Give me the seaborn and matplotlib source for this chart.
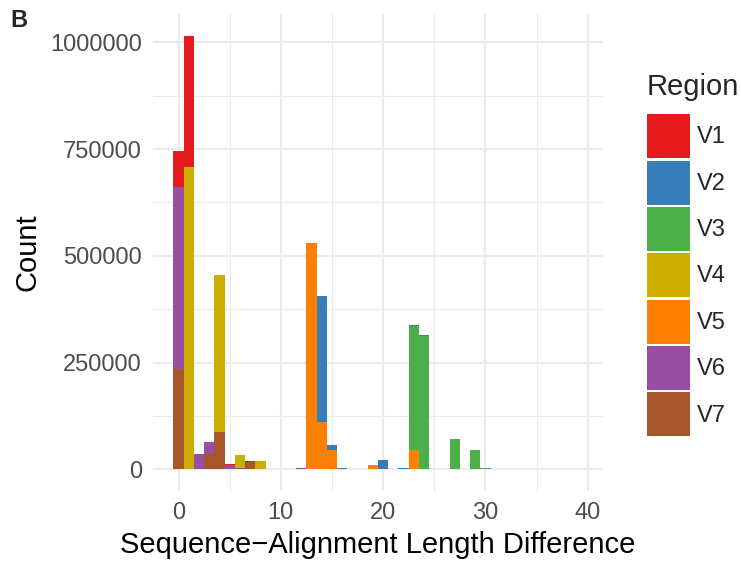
import numpy as np
import pandas as pd
import matplotlib
matplotlib.use("Agg")
import matplotlib.pyplot as plt
from matplotlib.patches import Patch
import seaborn as sns

# Per-region histogram counts, keyed by length difference (bin centre)
regions = ["V1", "V2", "V3", "V4", "V5", "V6", "V7"]

v1_diff = [0, 1, 5, 7]
v1_count = [745800, 1015600, 11700, 18500]

v2_diff = [14, 15, 16, 17, 18, 19, 20, 22, 23, 24, 25]
v2_count = [406000, 57800, 2500, 1500, 1500, 11000, 22700, 3000, 337000, 315000, 1500]

v3_diff = [23, 24, 27, 29, 30, 33, 34, 35, 37, 39]
v3_count = [335000, 313000, 71800, 46000, 4000, 1300, 1300, 1300, 1300, 1300]

v4_diff = [1, 4, 6, 8, 9, 10]
v4_count = [709000, 455600, 34400, 20000, 1500, 1500]

v5_diff = [13, 14, 15, 19, 21, 22, 23, 36]
v5_count = [530500, 111600, 46000, 10300, 1500, 1500, 46000, 1300]

v6_diff = [0, 2, 3, 5, 6, 8, 11, 12]
v6_count = [661500, 36700, 64800, 9400, 3500, 1500, 1500, 3000]

v7_diff = [0, 3, 4, 7]
v7_count = [235600, 36700, 88000, 17000]

region_colors = ["#E41A1C", "#377EB8", "#4DAF4A", "#CDAD00",
                 "#FF7F00", "#984EA3", "#A65628"]

x_ticks = [0, 10, 20, 30, 40]
y_ticks = [0, 250000, 500000, 750000, 1000000]

diffs = [v1_diff, v2_diff, v3_diff, v4_diff, v5_diff, v6_diff, v7_diff]
counts = [v1_count, v2_count, v3_count, v4_count, v5_count, v6_count, v7_count]
df = pd.concat(
    [pd.DataFrame({"diff": d, "count": c, "Region": r})
     for d, c, r in zip(diffs, counts, regions)],
    ignore_index=True,
)

sns.set_theme(style="whitegrid")
plt.rcParams["font.family"] = ["Liberation Sans", "DejaVu Sans"]

fig = plt.figure(figsize=(7.41, 5.62), dpi=100)
ax = fig.add_axes([153 / 741, 1 - 491 / 562, 450 / 741, 477 / 562])

# Overlaid (not stacked) histograms, later regions drawn on top
for region, color in zip(regions, region_colors):
    sub = df[df["Region"] == region]
    sns.histplot(data=sub, x="diff", weights="count", discrete=True,
                 color=color, alpha=1, linewidth=0, edgecolor="none",
                 ax=ax, zorder=3)

# ggplot-like 5% expansion of the data range
xmin, xmax = df["diff"].min() - 0.5, df["diff"].max() + 0.5
xpad = 0.05 * (xmax - xmin)
ax.set_xlim(xmin - xpad, xmax + xpad)
ymax = df["count"].max()
ax.set_ylim(-0.05 * ymax, 1.05 * ymax)

ax.set_xticks(x_ticks)
ax.set_yticks(y_ticks)
ax.set_yticklabels([str(v) for v in y_ticks])
ax.set_xticks([5, 15, 25, 35], minor=True)
ax.set_yticks([125000, 375000, 625000, 875000], minor=True)

ax.set_facecolor("white")
for s in ax.spines.values():
    s.set_visible(False)
ax.grid(which="major", color="#EBEBEB", linewidth=1.6, zorder=0)
ax.grid(which="minor", color="#EBEBEB", linewidth=0.8, zorder=0)
ax.set_axisbelow(True)
ax.tick_params(axis="both", which="both", length=0, labelsize=17,
               labelcolor="#4D4D4D")
ax.tick_params(axis="y", pad=8)
ax.tick_params(axis="x", pad=8)

ax.set_xlabel("Sequence\u2212Alignment Length Difference", fontsize=21,
              color="black", labelpad=5)
ax.set_ylabel("Count", fontsize=21, color="black", labelpad=6)

fig.text(10 / 741, 1 - 27 / 562, "B", fontsize=17, fontweight="bold",
         va="baseline", ha="left")

handles = [Patch(facecolor=c, edgecolor="none") for c in region_colors]
leg = fig.legend(handles, regions, title="Region", loc="upper left",
                 bbox_to_anchor=(647 / 741, 1 - 73 / 562), frameon=False,
                 fontsize=17, title_fontsize=21, alignment="left",
                 handlelength=1.82, handleheight=2.49, labelspacing=0.1,
                 handletextpad=0.3, borderpad=0, borderaxespad=0)
# extra room between the legend title and the colour keys
leg._legend_box.sep = 9.5

fig.savefig("out.png", dpi=100)
